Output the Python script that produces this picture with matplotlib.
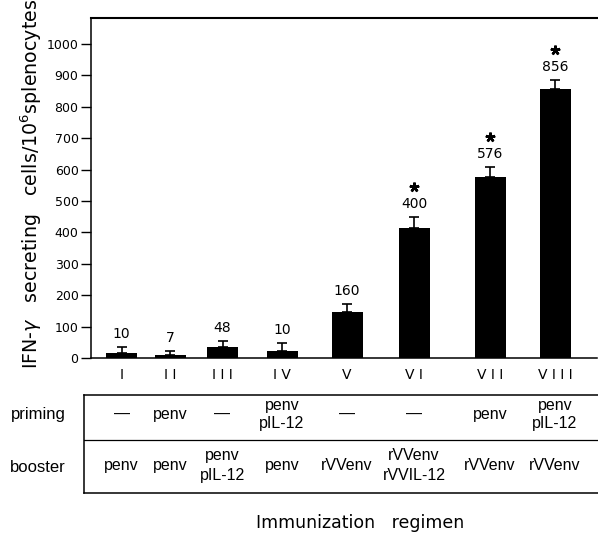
import matplotlib
matplotlib.use("Agg")
import matplotlib.pyplot as plt
import matplotlib.transforms as mtransforms
import numpy as np

# ---- data ----
groups = ["I", "I I", "I I I", "I V", "V", "V I", "V I I", "V I I I"]
bar_values = [17, 10, 36, 22, 147, 415, 576, 856]
err_values = [19, 13, 18, 26, 24, 34, 32, 29]
value_labels = ["10", "7", "48", "10", "160", "400", "576", "856"]
significant = [False, False, False, False, False, True, True, True]
priming = ["—", "penv", "—", "penv\npIL-12", "—", "—", "penv", "penv\npIL-12"]
booster = ["penv", "penv", "penv\npIL-12", "penv", "rVVenv",
           "rVVenv\nrVVIL-12", "rVVenv", "rVVenv"]
yticks = list(range(0, 1001, 100))

# ---- layout ----
W, H = 598, 534
fig = plt.figure(figsize=(W / 100, H / 100), dpi=100)
ax_l, ax_r, ax_t, ax_b = 91, 597, 18, 358
ax = fig.add_axes([ax_l / W, 1 - ax_b / H, (ax_r - ax_l) / W, (ax_b - ax_t) / H])

xpos = np.array([0.61, 1.58, 2.63, 3.82, 5.12, 6.46, 7.98, 9.28])
xmax = (ax_r - ax_l) / 50.0
ax.set_xlim(0, xmax)
ax.set_ylim(0, 1083)

ax.bar(xpos, bar_values, width=0.62, color="black", zorder=2)
ax.errorbar(xpos, bar_values, yerr=[np.zeros(len(err_values)), err_values],
            fmt="none", ecolor="black", elinewidth=1.2, capsize=3.8,
            capthick=1.2, zorder=3)

tops = np.array(bar_values) + np.array(err_values)
for x, t, lab in zip(xpos, tops, value_labels):
    ax.annotate(lab, xy=(x, t), xytext=(0, 6.5), textcoords="offset points",
                ha="center", va="baseline", fontsize=10, family="DejaVu Sans")

# significance asterisks drawn as 5-arm asterisk markers above the labels
star_tr = mtransforms.offset_copy(ax.transData, fig=fig, x=0, y=21.5, units="points")
sig = np.array(significant)
ax.plot(xpos[sig], tops[sig], linestyle="none", marker=(5, 2, 0),
        markersize=7, markeredgewidth=1.8, color="black", transform=star_tr,
        clip_on=False)

ax.set_yticks(yticks)
ax.set_yticklabels([str(t) for t in yticks], fontsize=9, family="DejaVu Sans")
ax.tick_params(axis="y", direction="out", length=7, width=1.0, pad=2)
ax.set_xticks(xpos)
ax.set_xticklabels(groups, fontsize=10, family="DejaVu Sans")
ax.tick_params(axis="x", length=0, pad=7)

for s in ["left", "bottom"]:
    ax.spines[s].set_linewidth(1.1)
ax.spines["top"].set_linewidth(1.5)
ax.spines["right"].set_visible(False)

fig.text(31 / W, 1 - 184 / H,
         r"IFN-$\gamma$   secreting   cells/10$^6$splenocytes",
         rotation=90, ha="center", va="center", fontsize=13.7,
         family="DejaVu Sans")

# ---- table ----
t_top, t_bot, t_left = 395, 493, 84
tax = fig.add_axes([t_left / W, 1 - t_bot / H, (600 - t_left) / W, (t_bot - t_top) / H])
tax.set_xlim((t_left - ax_l) / 50.0, (600 - ax_l) / 50.0)
tax.set_ylim(0, 1)
tax.set_xticks([])
tax.set_yticks([])
for s in ["left", "top", "bottom"]:
    tax.spines[s].set_linewidth(1.1)
tax.spines["right"].set_visible(False)
tax.axhline(0.541, color="black", linewidth=0.9)
tax.patch.set_alpha(0)

for x, p, b in zip(xpos, priming, booster):
    tax.text(x, 0.80, p, ha="center", va="center", fontsize=11.5,
             family="Liberation Sans", linespacing=1.2)
    tax.text(x, 0.28, b, ha="center", va="center", fontsize=11.5,
             family="Liberation Sans", linespacing=1.45)

fig.text(38 / W, 1 - 414 / H, "priming", ha="center", va="center",
         fontsize=12, family="Liberation Sans")
fig.text(38 / W, 1 - 467 / H, "booster", ha="center", va="center",
         fontsize=12, family="Liberation Sans")

fig.text(360 / W, 1 - 523 / H, "Immunization   regimen", ha="center",
         va="center", fontsize=12.5, family="DejaVu Sans")

fig.savefig("out.png", dpi=100)
